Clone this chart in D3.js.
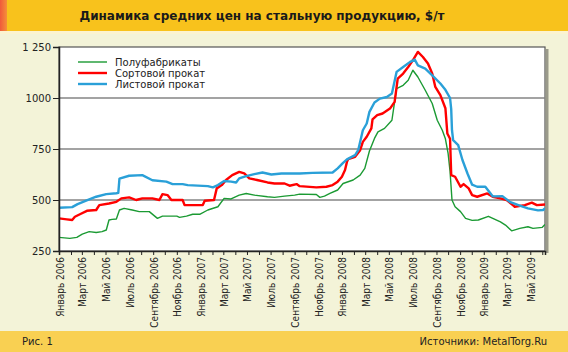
<!DOCTYPE html>
<html><head><meta charset="utf-8">
<script src="https://cdn.jsdelivr.net/npm/d3@7"></script>
<style>
html,body{margin:0;padding:0;background:#F3F3D8;}
svg{display:block;}
</style></head>
<body>
<svg id="chart" width="568" height="352"></svg>
<script>
const title = "Динамика средних цен на стальную продукцию, $/т";
const seriesNames = ["Полуфабрикаты", "Сортовой прокат", "Листовой прокат"];
const seriesColors = ["#1B9A33", "#FF0000", "#2AA0D8"];
const yTickValues = [250, 500, 750, 1000, 1250];
const yTickLabels = ["250", "500", "750", "1000", "1 250"];
const monthNames = ["Январь","Февраль","Март","Апрель","Май","Июнь","Июль","Август","Сентябрь","Октябрь","Ноябрь","Декабрь"];

const greenSeries = [
["2006-01-01",317],["2006-01-29",312],["2006-02-16",317],["2006-03-02",333],["2006-03-20",345],["2006-04-07",341],
["2006-04-22",345],["2006-05-03",353],["2006-05-10",402],["2006-05-18",405],["2006-05-29",407],["2006-06-06",451],
["2006-06-18",459],["2006-07-09",451],["2006-07-27",443],["2006-08-22",443],["2006-09-12",410],["2006-09-25",421],
["2006-11-01",421],["2006-11-08",415],["2006-11-26",421],["2006-12-12",430],["2006-12-30",430],["2007-01-20",451],
["2007-02-15",467],["2007-03-03",508],["2007-03-21",505],["2007-04-11",524],["2007-04-29",532],["2007-05-20",524],
["2007-06-23",516],["2007-07-11",513],["2007-08-06",519],["2007-09-01",524],["2007-09-14",529],["2007-10-27",527],
["2007-11-05",513],["2007-11-17",519],["2007-12-01",532],["2007-12-21",549],["2008-01-04",581],["2008-01-30",598],
["2008-02-17",622],["2008-02-29",655],["2008-03-12",740],["2008-03-25",802],["2008-04-03",834],["2008-04-20",851],
["2008-05-09",891],["2008-05-21",1046],["2008-06-07",1062],["2008-06-20",1087],["2008-07-02",1136],["2008-07-15",1103],
["2008-08-03",1038],["2008-08-21",973],["2008-09-03",891],["2008-09-16",842],["2008-09-24",800],["2008-10-01",728],
["2008-10-06",640],["2008-10-11",500],["2008-10-19",467],["2008-11-02",443],["2008-11-15",410],["2008-12-02",400],
["2008-12-18",402],["2009-01-13",420],["2009-02-13",393],["2009-02-26",377],["2009-03-14",349],["2009-04-04",361],
["2009-04-25",369],["2009-05-08",361],["2009-06-01",366],["2009-06-08",380]
];
const redSeries = [
["2006-01-01",410],["2006-01-21",405],["2006-02-04",402],["2006-02-11",418],["2006-02-28",434],["2006-03-14",447],
["2006-04-07",451],["2006-04-15",475],["2006-05-10",483],["2006-05-29",491],["2006-06-11",508],["2006-07-01",513],
["2006-07-19",500],["2006-08-04",508],["2006-08-30",508],["2006-09-17",500],["2006-09-25",529],["2006-10-08",524],
["2006-10-18",500],["2006-11-16",500],["2006-11-21",475],["2007-01-07",475],["2007-01-12",496],["2007-02-05",500],
["2007-02-12",557],["2007-02-25",573],["2007-03-08",598],["2007-03-24",622],["2007-04-11",638],["2007-04-24",630],
["2007-05-07",606],["2007-05-27",598],["2007-06-23",586],["2007-07-11",581],["2007-08-06",581],["2007-08-19",570],
["2007-09-06",578],["2007-09-14",568],["2007-10-27",562],["2007-11-22",565],["2007-12-08",573],["2007-12-21",590],
["2008-01-01",614],["2008-01-09",647],["2008-01-14",687],["2008-01-17",700],["2008-02-04",712],["2008-02-17",744],
["2008-02-24",785],["2008-03-05",810],["2008-03-17",851],["2008-03-20",895],["2008-04-01",916],["2008-04-15",924],
["2008-05-04",948],["2008-05-16",981],["2008-05-24",1095],["2008-06-07",1120],["2008-06-20",1152],["2008-07-02",1185],
["2008-07-15",1226],["2008-07-28",1201],["2008-08-10",1169],["2008-08-21",1120],["2008-08-29",1054],["2008-09-11",1014],
["2008-09-24",950],["2008-09-29",826],["2008-10-06",800],["2008-10-09",622],["2008-10-19",614],["2008-11-02",565],
["2008-11-10",578],["2008-11-23",557],["2008-12-02",524],["2008-12-15",516],["2009-01-10",532],["2009-01-24",516],
["2009-02-13",508],["2009-03-01",500],["2009-03-17",475],["2009-03-22",467],["2009-04-17",475],["2009-05-05",487],
["2009-05-18",475],["2009-06-08",478]
];
const blueSeries = [
["2006-01-01",462],["2006-02-04",465],["2006-02-18",480],["2006-03-12",497],["2006-04-07",516],["2006-05-03",529],
["2006-05-29",533],["2006-06-03",535],["2006-06-06",605],["2006-07-01",619],["2006-08-04",622],["2006-08-30",597],
["2006-10-05",590],["2006-10-21",578],["2006-11-16",578],["2006-11-29",573],["2007-01-20",568],["2007-02-02",562],
["2007-02-15",573],["2007-03-03",593],["2007-03-21",590],["2007-04-03",586],["2007-04-11",606],["2007-04-29",617],
["2007-05-20",627],["2007-06-10",635],["2007-07-03",625],["2007-07-29",630],["2007-09-14",630],["2007-10-17",633],
["2007-12-08",635],["2007-12-21",655],["2008-01-04",682],["2008-01-14",699],["2008-02-04",720],["2008-02-12",744],
["2008-02-24",842],["2008-03-05",875],["2008-03-12",932],["2008-03-25",978],["2008-04-08",997],["2008-04-26",1005],
["2008-05-09",1022],["2008-05-21",1128],["2008-06-07",1152],["2008-06-25",1177],["2008-07-07",1188],["2008-07-15",1160],
["2008-08-03",1144],["2008-08-21",1111],["2008-09-11",1071],["2008-09-24",1040],["2008-10-06",1000],["2008-10-09",945],
["2008-10-11",842],["2008-10-14",793],["2008-10-27",769],["2008-11-07",696],["2008-11-20",630],["2008-12-02",575],
["2008-12-15",565],["2009-01-05",565],["2009-01-24",518],["2009-02-18",519],["2009-03-09",491],["2009-04-04",473],
["2009-04-25",459],["2009-05-21",449],["2009-06-03",451],["2009-06-08",459]
];

const parse = d3.timeParse("%Y-%m-%d");
const allSeries = [greenSeries, redSeries, blueSeries];
const widths = [1.4, 2.4, 2.4];

const svg = d3.select("#chart");
const L = 59, R = 545, T = 47, B = 251;

// background bars
svg.append("rect").attr("x",0).attr("y",0).attr("width",568).attr("height",352).attr("fill","#F3F3D8");
svg.append("rect").attr("x",0).attr("y",0).attr("width",568).attr("height",31).attr("fill","#F8C21C");
svg.append("rect").attr("x",0).attr("y",31).attr("width",568).attr("height",3).attr("fill","#FBF3D0");
const grad = svg.append("defs").append("linearGradient").attr("id","lstripe").attr("x1",0).attr("x2",1);
grad.append("stop").attr("offset","0%").attr("stop-color","#F05A3A");
grad.append("stop").attr("offset","100%").attr("stop-color","#F5903A");
svg.append("rect").attr("x",0).attr("y",0).attr("width",7).attr("height",31).attr("fill","url(#lstripe)");
svg.append("rect").attr("x",0).attr("y",331).attr("width",568).attr("height",21).attr("fill","#F9D052");

svg.append("text").attr("x",262).attr("y",19.5).attr("text-anchor","middle")
  .attr("font-family","DejaVu Sans, Verdana, sans-serif").attr("font-weight","bold").attr("font-size",12)
  .attr("fill","#1a1a1a").text(title);

// scales
const x = d3.scaleTime().domain([parse("2006-01-01"), parse("2009-06-08")]).range([L, R]);
const y = d3.scaleLinear().domain([250, 1250]).range([B, T]);

// plot area
svg.append("rect").attr("x",R+1).attr("y",T+2).attr("width",2.5).attr("height",B-T).attr("fill","#9a9a8a");
svg.append("rect").attr("x",L).attr("y",T).attr("width",R-L).attr("height",B-T).attr("fill","#fff")
  .attr("stroke","#555").attr("stroke-width",1.2);

// gridlines
svg.append("g").selectAll("line").data([500,750,1000]).join("line")
  .attr("x1",L).attr("x2",R).attr("y1",d=>y(d)).attr("y2",d=>y(d))
  .attr("stroke","#858585").attr("stroke-width",1.6);

// lines
const line = d3.line().x(d=>x(parse(d[0]))).y(d=>y(d[1]));
svg.append("defs").append("clipPath").attr("id","clip").append("rect")
  .attr("x",L).attr("y",T-5).attr("width",R-L).attr("height",B-T+5);
const lg = svg.append("g").attr("clip-path","url(#clip)");
allSeries.forEach((s,i)=>{
  lg.append("path").datum(s).attr("d",line).attr("fill","none")
    .attr("stroke",seriesColors[i]).attr("stroke-width",widths[i]).attr("stroke-linejoin","round");
});

// y axis
const yAxis = d3.axisLeft(y).tickValues(yTickValues).tickSize(6).tickPadding(2)
  .tickFormat((d,i)=>yTickLabels[i]);
const yg = svg.append("g").attr("transform",`translate(${L},0)`).call(yAxis);
yg.select(".domain").attr("stroke","#222").attr("stroke-width",1.5);
yg.selectAll(".tick line").attr("stroke","#222");
yg.selectAll("text").attr("font-family","DejaVu Sans, Verdana, sans-serif").attr("font-size",10).attr("fill","#222");

// x axis
const xAxis = d3.axisBottom(x).ticks(d3.timeMonth.every(1)).tickSize(4).tickFormat("");
const xg = svg.append("g").attr("transform",`translate(0,${B})`).call(xAxis);
xg.select(".domain").attr("stroke","#222").attr("stroke-width",1.5);
xg.selectAll(".tick line").attr("stroke","#222");
const labelMonths = d3.timeMonth.every(2).range(parse("2006-01-01"), parse("2009-06-08"));
svg.append("g").selectAll("text").data(labelMonths).join("text")
  .attr("transform",d=>`translate(${x(d)+1},${B+6}) rotate(-90)`)
  .attr("text-anchor","end").attr("dy","0.35em")
  .attr("font-family","Liberation Sans Narrow, DejaVu Sans Condensed, sans-serif").attr("font-size",10)
  .attr("fill","#222")
  .text(d=>monthNames[d.getMonth()] + " " + d.getFullYear());

// legend
const leg = svg.append("g");
seriesNames.forEach((n,i)=>{
  const yy = 62 + i*11;
  leg.append("line").attr("x1",78).attr("x2",107).attr("y1",yy).attr("y2",yy)
    .attr("stroke",seriesColors[i]).attr("stroke-width",widths[i]);
  leg.append("text").attr("x",115).attr("y",yy).attr("dy","0.35em")
    .attr("font-family","DejaVu Sans, Verdana, sans-serif").attr("font-size",10).attr("fill","#222").text(n);
});

// footer
svg.append("text").attr("x",22).attr("y",345).attr("font-family","DejaVu Sans, Verdana, sans-serif")
  .attr("font-size",10).attr("fill","#222").text("Рис. 1");
svg.append("text").attr("x",547).attr("y",345).attr("text-anchor","end").attr("font-family","DejaVu Sans, Verdana, sans-serif")
  .attr("font-size",10).attr("fill","#222").text("Источники: MetalTorg.Ru");
</script>
</body></html>
